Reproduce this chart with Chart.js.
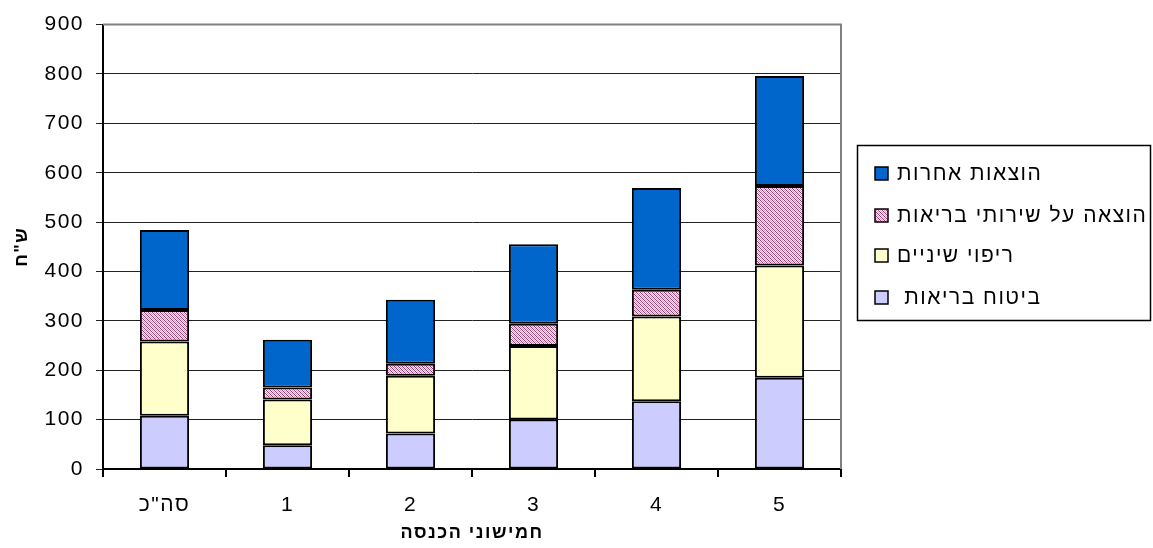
<!DOCTYPE html>
<html lang="he">
<head>
<meta charset="utf-8">
<script src="https://cdn.jsdelivr.net/npm/chart.js@4/dist/chart.umd.min.js"></script>
<style>
  html, body { margin: 0; padding: 0; background: #fff; }
  #wrap { width: 1153px; height: 548px; position: relative; }
</style>
</head>
<body>
<div id="wrap"><canvas id="c" width="1153" height="548"></canvas></div>
<script>
// Income quintiles and spending per category (NIS)
const categories = ['סה"כ', '1', '2', '3', '4', '5'];
const healthInsurance = [108, 48, 72, 100, 137, 185];
const dentalCare = [150, 93, 117, 149, 172, 227];
const healthServices = [64, 24, 24, 45, 54, 161];
const otherExpenses = [162, 97, 130, 161, 206, 223];
const seriesLabels = ['ביטוח בריאות ', 'ריפוי שיניים', 'הוצאה על שירותי בריאות', 'הוצאות אחרות'];
const yTicks = [0, 100, 200, 300, 400, 500, 600, 700, 800, 900];

const FONT = '"Liberation Sans", Arial, sans-serif';
const FSIZE = 21;
const TSIZE = 18;
const SPACING = '1.5px';

// Fine diagonal hatch used for the health-services segment
function makeHatch() {
  const t = document.createElement('canvas');
  t.width = 4; t.height = 4;
  const g = t.getContext('2d');
  g.fillStyle = '#ffffff';
  g.fillRect(0, 0, 4, 4);
  for (let x = 0; x < 4; x++) {
    for (let y = 0; y < 4; y++) {
      if ((x + y) % 2 === 0) {
        g.fillStyle = ((x - y + 8) % 4 === 0) ? '#a33a6e' : '#e39bbf';
        g.fillRect(x, y, 1, 1);
      }
    }
  }
  return document.getElementById('c').getContext('2d').createPattern(t, 'repeat');
}
const hatch = makeHatch();

const seriesColors = ['#ccccff', '#ffffcc', hatch, '#0066cc'];
const seriesValues = [healthInsurance, dentalCare, healthServices, otherExpenses];

// Slightly open letter spacing for all chart text
const spacingPlugin = {
  id: 'spacing',
  beforeDraw(chart) { chart.ctx.letterSpacing = SPACING; }
};

// Frame on the right edge of the plot, plus boxed legend
const framePlugin = {
  id: 'frame',
  afterDraw(chart) {
    const { ctx, chartArea: a } = chart;
    ctx.save();
    ctx.strokeStyle = '#808080';
    ctx.lineWidth = 2;
    ctx.beginPath();
    ctx.moveTo(a.left, a.top);
    ctx.lineTo(a.right, a.top);
    ctx.lineTo(a.right, a.bottom);
    ctx.stroke();

    // legend box
    const bx = 857, by = 145, bw = 293, bh = 175;
    ctx.strokeStyle = '#000';
    ctx.lineWidth = 1.5;
    ctx.strokeRect(bx + 0.5, by + 0.5, bw, bh);

    const ds = chart.data.datasets.slice().reverse();
    const rowY = [173, 215, 255, 297];
    ctx.font = FSIZE + 'px ' + FONT;
    ctx.letterSpacing = SPACING;
    ctx.textBaseline = 'middle';
    ctx.direction = 'rtl';
    ctx.textAlign = 'left';
    ds.forEach((d, i) => {
      const y = rowY[i];
      ctx.fillStyle = d.backgroundColor;
      ctx.fillRect(875, y - 6, 13, 13);
      ctx.strokeStyle = '#000';
      ctx.lineWidth = 1.5;
      ctx.strokeRect(875, y - 6, 13, 13);
      ctx.fillStyle = '#000';
      ctx.fillText(d.label, 897, y + 1);
    });
    ctx.restore();
  }
};

new Chart(document.getElementById('c'), {
  type: 'bar',
  data: {
    labels: categories,
    datasets: seriesValues.map((vals, i) => ({
      label: seriesLabels[i],
      data: vals,
      backgroundColor: seriesColors[i],
      borderColor: '#000',
      borderWidth: 2,
      borderSkipped: false,
      categoryPercentage: 1.0,
      barPercentage: 0.4
    }))
  },
  options: {
    responsive: false,
    animation: false,
    devicePixelRatio: 1,
    layout: { padding: { top: 23, right: 312, bottom: 0, left: 0 } },
    plugins: {
      legend: { display: false },
      tooltip: { enabled: false }
    },
    scales: {
      x: {
        stacked: true,
        offset: true,
        afterFit(s) { s.height = 79; },
        border: { display: true, color: '#000', width: 2 },
        grid: { offset: true, drawOnChartArea: false, drawTicks: true, tickLength: 8, color: '#000', lineWidth: 2 },
        ticks: { color: '#000', font: { family: FONT, size: FSIZE }, padding: 16, maxRotation: 0 },
        title: { display: true, text: 'חמישוני הכנסה', color: '#000', font: { family: FONT, size: TSIZE, weight: 'bold' }, padding: { top: 0, bottom: 4 } }
      },
      y: {
        stacked: true,
        min: 0,
        max: 900,
        afterFit(s) { s.width = 103; },
        afterBuildTicks(s) { s.ticks = yTicks.map(v => ({ value: v })); },
        border: { display: true, color: '#000', width: 2 },
        grid: {
          color: '#222',
          lineWidth: 1,
          tickLength: 7,
          drawTicks: true
        },
        ticks: { color: '#000', font: { family: FONT, size: FSIZE }, padding: 12 },
        title: { display: true, text: 'ש"ח', color: '#000', font: { family: FONT, size: TSIZE, weight: 'bold' }, padding: { top: 11, bottom: 0 } }
      }
    }
  },
  plugins: [spacingPlugin, framePlugin]
});
</script>
</body>
</html>
